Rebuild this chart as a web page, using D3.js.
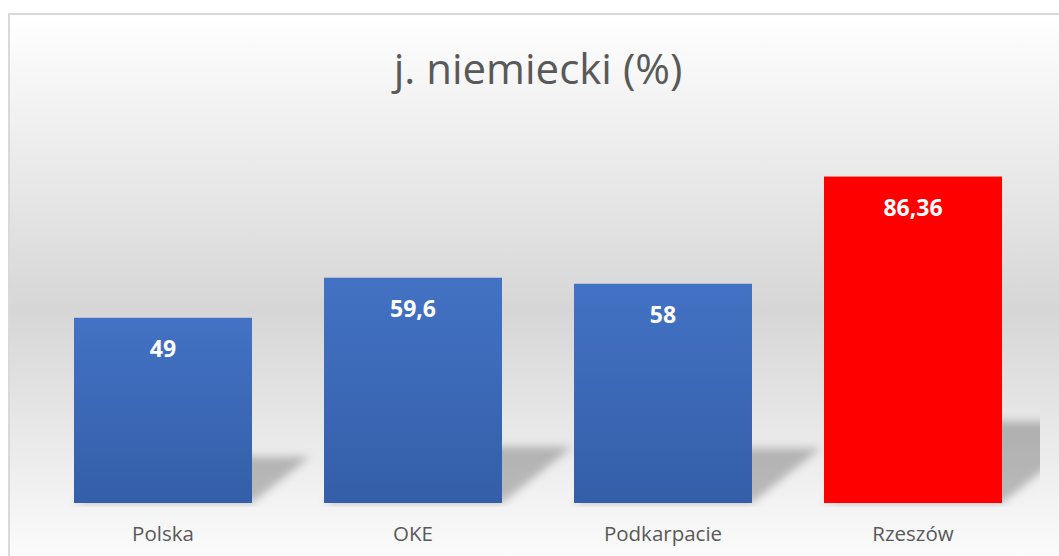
<!DOCTYPE html>
<html>
<head>
<meta charset="utf-8">
<script src="https://cdn.jsdelivr.net/npm/d3@7"></script>
<style>
  html, body { margin: 0; padding: 0; background: #fff; }
  svg { display: block; font-family: "Open Sans", sans-serif; }
</style>
</head>
<body>
<div id="chart"></div>
<script>
// dane
var categories = ["Polska", "OKE", "Podkarpacie", "Rzeszów"];
var values = [49, 59.6, 58, 86.36];
var labels = ["49", "59,6", "58", "86,36"];
var highlight = "Rzeszów";
var title = "j. niemiecki (%)";

var width = 1059, height = 556;
// obszar wykresu
var plot = {left: 38, right: 1038, top: 125, bottom: 503};

var svg = d3.select("#chart").append("svg")
    .attr("width", width).attr("height", height);

var defs = svg.append("defs");

// tło - gradient pionowy
var bg = defs.append("linearGradient").attr("id", "bg")
    .attr("x1", 0).attr("y1", 0).attr("x2", 0).attr("y2", 1);
bg.append("stop").attr("offset", "0%").attr("stop-color", "#ffffff");
bg.append("stop").attr("offset", "52%").attr("stop-color", "#d6d6d6");
bg.append("stop").attr("offset", "100%").attr("stop-color", "#ffffff");

// słupki - gradient niebieski
var blue = defs.append("linearGradient").attr("id", "blue")
    .attr("x1", 0).attr("y1", 0).attr("x2", 0).attr("y2", 1);
blue.append("stop").attr("offset", "0%").attr("stop-color", "#4372c4");
blue.append("stop").attr("offset", "100%").attr("stop-color", "#345ea8");

defs.append("filter").attr("id", "blur")
    .attr("x", "-20%").attr("y", "-30%").attr("width", "140%").attr("height", "160%")
  .append("feGaussianBlur").attr("stdDeviation", 4);

defs.append("clipPath").attr("id", "plotclip")
  .append("rect")
    .attr("x", plot.left).attr("y", 0)
    .attr("width", plot.right - plot.left + 2).attr("height", plot.bottom + 4);

// ramka + tło
svg.append("rect")
    .attr("x", 9).attr("y", 14)
    .attr("width", 1070).attr("height", 570)
    .attr("fill", "url(#bg)")
    .attr("stroke", "#d9d9d9").attr("stroke-width", 2);

// tytuł
svg.append("text")
    .attr("x", 538).attr("y", 84)
    .attr("text-anchor", "middle")
    .attr("font-size", 42)
    .attr("fill", "#595959")
    .text(title);

var x = d3.scaleBand()
    .domain(categories)
    .range([plot.left, plot.right])
    .paddingInner(0.288)
    .paddingOuter(0.144);

var y = d3.scaleLinear()
    .domain([0, 100])
    .range([plot.bottom, plot.top]);

var data = categories.map(function(c, i){
    return {cat: c, value: values[i], label: labels[i]};
});

// cienie perspektywiczne
var k = 1.25;
svg.append("g").attr("clip-path", "url(#plotclip)")
  .selectAll("path")
  .data(data)
  .enter()
  .append("path")
    .attr("d", function(d){
        var x0 = x(d.cat), x1 = x0 + x.bandwidth();
        var h = (y(0) - y(d.value)) * 0.25;
        var b = y(0);
        return "M" + x0 + "," + b + "L" + x1 + "," + b +
            "L" + (x1 + k*h) + "," + (b - h) + "L" + (x0 + k*h) + "," + (b - h) + "Z";
    })
    .attr("fill", "rgba(0,0,0,0.24)")
    .attr("filter", "url(#blur)");

// słupki
svg.append("g")
  .selectAll("rect")
  .data(data)
  .enter()
  .append("rect")
    .attr("x", function(d){ return x(d.cat); })
    .attr("y", function(d){ return y(d.value); })
    .attr("width", x.bandwidth())
    .attr("height", function(d){ return y(0) - y(d.value); })
    .attr("fill", function(d){ return d.cat === highlight ? "#ff0000" : "url(#blue)"; });

// etykiety wartości
svg.append("g")
  .selectAll("text")
  .data(data)
  .enter()
  .append("text")
    .attr("x", function(d){ return x(d.cat) + x.bandwidth()/2; })
    .attr("y", function(d){ return y(d.value) + 39; })
    .attr("text-anchor", "middle")
    .attr("font-size", 23)
    .attr("font-weight", "bold")
    .attr("fill", "#ffffff")
    .text(function(d){ return d.label; });

// oś X
var xAxis = svg.append("g")
    .attr("transform", "translate(0," + plot.bottom + ")")
    .call(d3.axisBottom(x).tickSize(0).tickPadding(0));
xAxis.select(".domain").remove();
xAxis.selectAll("text")
    .attr("y", 38)
    .attr("dy", 0)
    .attr("font-size", 20.5)
    .attr("font-family", "Open Sans, sans-serif")
    .attr("fill", "#595959");
</script>
</body>
</html>
